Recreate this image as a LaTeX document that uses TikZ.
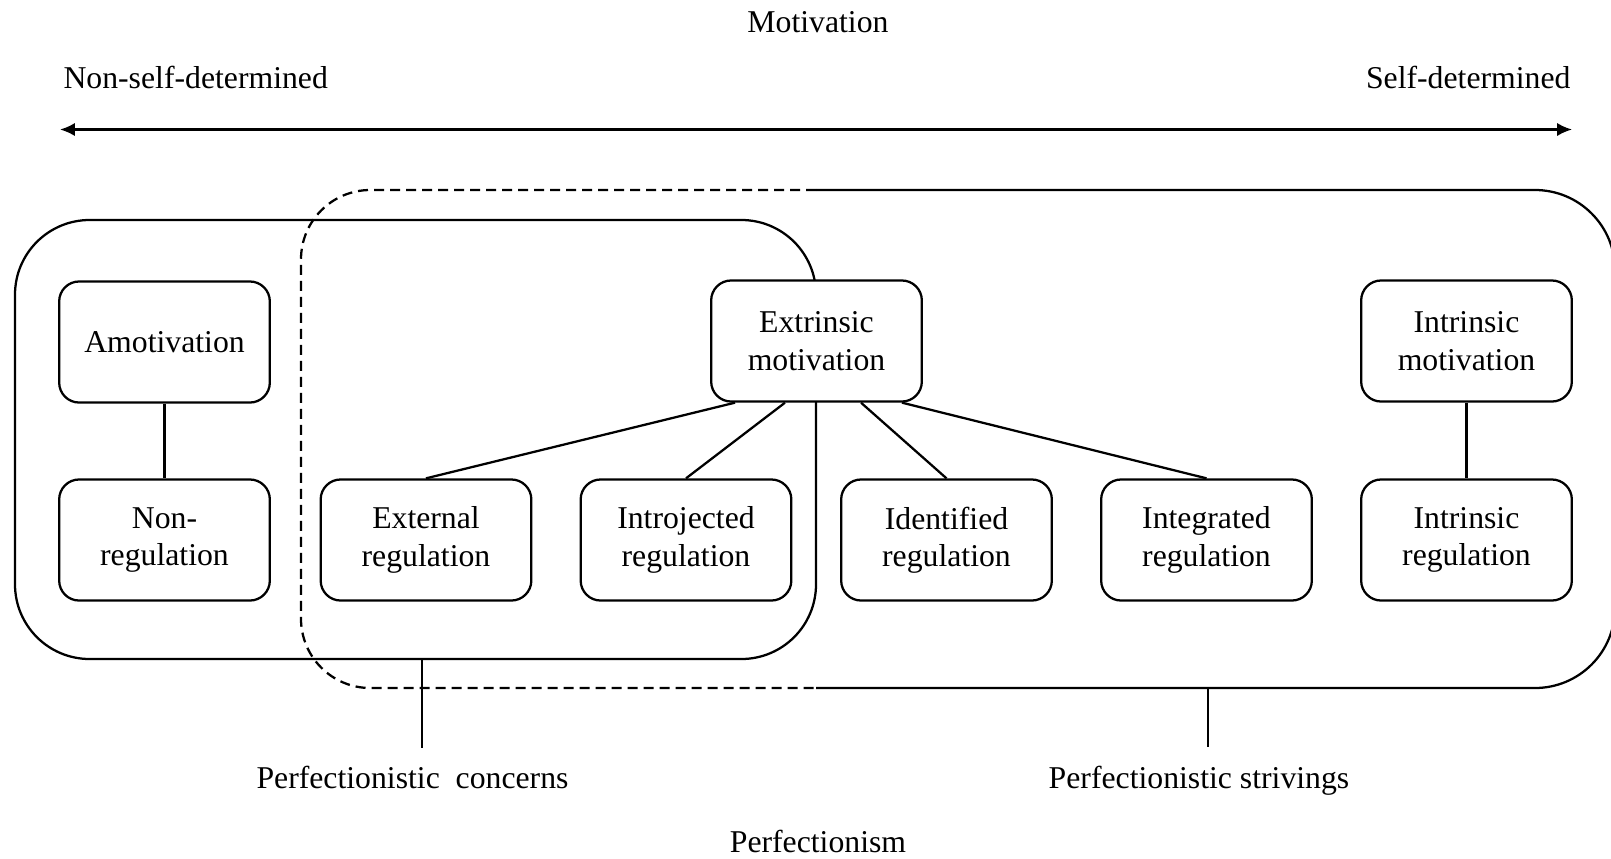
\documentclass[tikz,border=0pt]{standalone}
\usepackage{fontspec}
\setmainfont{Liberation Serif}
\usetikzlibrary{arrows.meta,calc}
\begin{document}
\begin{tikzpicture}[x=0.375pt,y=-0.375pt,
  every node/.style={font=\fontsize{11.9}{14}\selectfont},
  box/.style={draw,line width=0.85pt,rounded corners=7.5pt,fill=white,minimum width=79pt,minimum height=45.4pt,align=center,inner sep=2pt},
  link/.style={line width=0.85pt},
  txt/.style={inner sep=0pt,anchor=base},
  dashline/.style={line width=0.85pt,dash pattern=on 3.75pt off 2.25pt}]
\useasboundingbox (0,0) rectangle (1611,858);

% headings
\node[txt] (mot) at (818,32) {Motivation};
\node[txt,anchor=base west] (nsd) at (63,88) {Non-self-determined};
\node[txt,anchor=base east] (sd) at (1571,88) {Self-determined};
\coordinate (la) at (60,129.5);
\coordinate (ra) at (1572,129.5);
\draw[link,{Latex[length=5.6pt,width=5pt]}-{Latex[length=5.6pt,width=5pt]}] (la) -- (ra);

% big perfectionistic strivings region (dashed left part, solid right part)
\draw[dashline,rounded corners=26pt] (816,190) -- (301,190) -- (301,688) -- (816,688);
\draw[link,rounded corners=30pt] (816,190) -- (1615,190) -- (1615,688) -- (816,688);
% perfectionistic concerns region
\draw[link,rounded corners=28pt] (15,220) rectangle (816,659);

% boxes
\node[box] (amo) at (164.5,342) {Amotivation};
\node[box] (nonreg) at (164.5,540) {Non-\\regulation};
\node[box] (ext) at (816.5,341) {Extrinsic\\motivation};
\node[box] (intm) at (1466.5,341) {Intrinsic\\motivation};
\node[box] (extreg) at (426,540) {External\\regulation};
\node[box] (intro) at (686,540) {Introjected\\regulation};
\node[box] (ident) at (946.5,540) {Identified\\regulation};
\node[box] (integ) at (1206.5,540) {Integrated\\regulation};
\node[box] (intreg) at (1466.5,540) {Intrinsic\\regulation};

% connectors
\draw[link] (amo.south) -- (nonreg.north);
\draw[link] (intm.south) -- (intreg.north);
\draw[link] ($(ext.south)+(-81.5,0)$) -- (extreg.north);
\draw[link] ($(ext.south)+(-31.5,0)$) -- (intro.north);
\draw[link] ($(ext.south)+(44.5,0)$) -- (ident.north);
\draw[link] ($(ext.south)+(85.5,0)$) -- (integ.north);

% perfectionism labels
\coordinate (pcA) at (422,659);
\coordinate (pcB) at (422,748);
\coordinate (psA) at (1208,688);
\coordinate (psB) at (1208,747);
\draw[link] (pcA) -- (pcB);
\draw[link] (psA) -- (psB);
\node[txt] (pc) at (412.5,788) {Perfectionistic\ \ concerns};
\node[txt] (ps) at (1199,788) {Perfectionistic strivings};
\node[txt] (perf) at (818,852) {Perfectionism};
\end{tikzpicture}
\end{document}
